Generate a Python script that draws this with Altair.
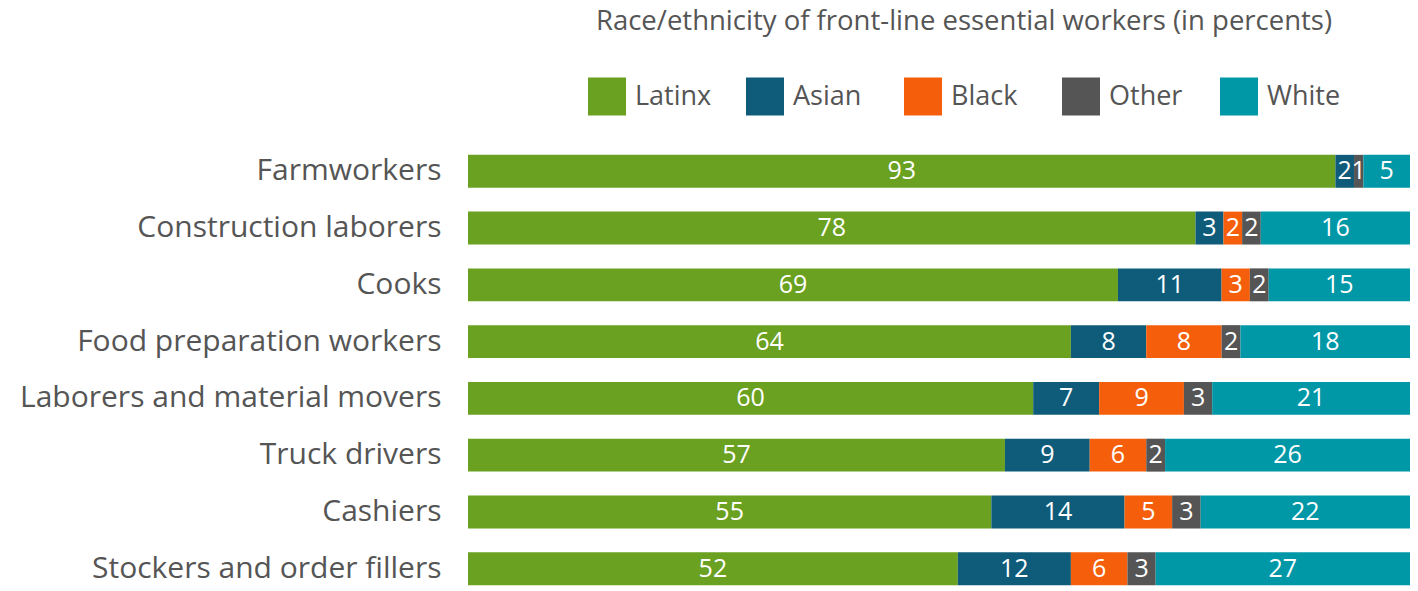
import altair as alt
import pandas as pd

jobs = ["Farmworkers", "Construction laborers", "Cooks", "Food preparation workers",
        "Laborers and material movers", "Truck drivers", "Cashiers", "Stockers and order fillers"]
groups = ["Latinx", "Asian", "Black", "Other", "White"]
colors = ["#6aa121", "#0e5c7a", "#f55f0c", "#555555", "#0097a7"]

latinx = [93, 78, 69, 64, 60, 57, 55, 52]
asian = [2, 3, 11, 8, 7, 9, 14, 12]
black = [0, 2, 3, 8, 9, 6, 5, 6]
other = [1, 2, 2, 2, 3, 2, 3, 3]
white = [5, 16, 15, 18, 21, 26, 22, 27]

series = [latinx, asian, black, other, white]
rows = []
for gi, (g, vals) in enumerate(zip(groups, series)):
    for j, v in zip(jobs, vals):
        rows.append({"job": j, "group": g, "value": v, "order": gi})
df = pd.DataFrame(rows)

FONT = "Open Sans"

base = alt.Chart(df).transform_stack(
    stack="value", groupby=["job"], sort=[alt.SortField("order")],
    as_=["v0", "v1"], offset="normalize"
)

yenc = alt.Y("job:N", sort=jobs,
             scale=alt.Scale(paddingInner=0.42, paddingOuter=0.05),
             axis=alt.Axis(title=None, domain=False, ticks=False, labelPadding=27,
                           labelFontSize=30, labelColor="#555555", labelFont=FONT,
                           labelLimit=600))

bars = base.mark_bar().encode(
    y=yenc,
    x=alt.X("v0:Q", scale=alt.Scale(domain=[0, 1]), axis=None),
    x2="v1:Q",
    color=alt.Color("group:N", sort=groups,
                    scale=alt.Scale(domain=groups, range=colors),
                    legend=alt.Legend(
                        orient="none", legendX=120, legendY=-144, direction="horizontal",
                        title="Race/ethnicity of front-line essential workers (in percents)",
                        titleFontSize=27.5, titleFont=FONT, titleColor="#555555",
                        titleFontWeight="normal", titleAnchor="middle", titlePadding=42,
                        titleLimit=1000,
                        labelFontSize=27, labelFont=FONT, labelColor="#555555",
                        symbolType="square", symbolSize=1444, symbolStrokeWidth=0,
                        symbolOpacity=1, labelOffset=9, columnPadding=34,
                        gridAlign="all")),
    order=alt.Order("order:Q"),
)

text = base.transform_filter("datum.value > 0").transform_calculate(
    mid="(datum.v0 + datum.v1) / 2"
).mark_text(color="white", fontSize=25, font=FONT).encode(
    y=alt.Y("job:N", sort=jobs),
    x=alt.X("mid:Q"),
    text="value:Q",
)

chart = alt.layer(bars, text).properties(
    width=942, height=436,
    autosize=alt.AutoSizeParams(type="none"),
    padding={"left": 468, "top": 152, "right": 8, "bottom": 3},
).configure_view(stroke=None)

chart.save("out.html", embed_options={"renderer": "svg", "actions": False})
